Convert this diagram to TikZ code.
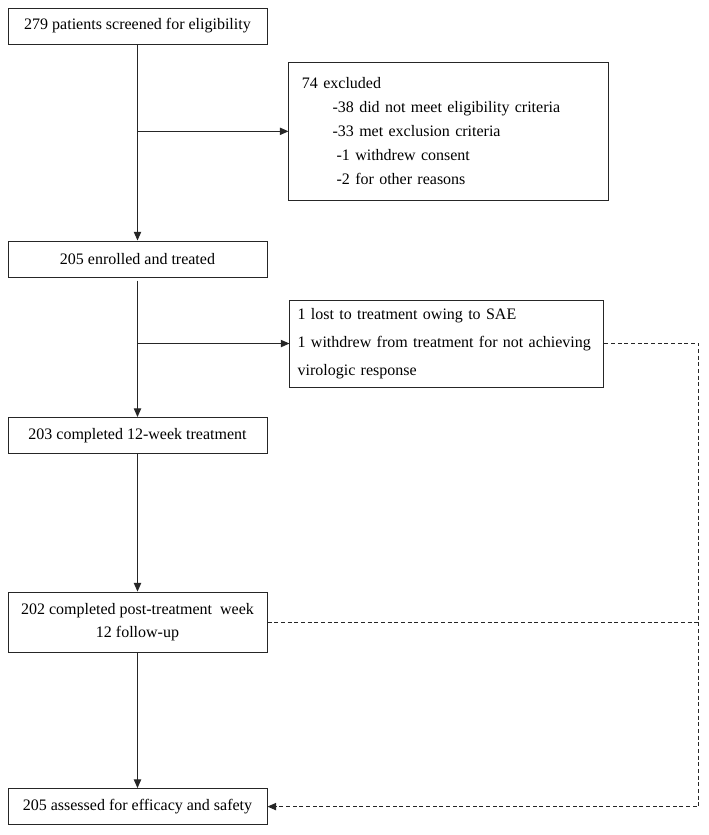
\documentclass[tikz,border=0pt]{standalone}
\usepackage{fontspec}
\setmainfont{Liberation Serif}
\usepackage{tikz}
\usetikzlibrary{positioning,arrows.meta}
\tikzstyle{box} = [draw=black!85,line width=0.75pt,minimum width=194.25pt,minimum height=27pt,inner sep=0pt,font=\fontsize{12}{14.4}\selectfont]
\tikzstyle{arrow} = [draw=black!85,line width=0.75pt,-{Triangle[length=6.5pt,width=5.5pt]}]
\tikzstyle{dline} = [draw=black!85,line width=0.75pt,dash pattern=on 3pt off 2pt]

\begin{document}
\begin{tikzpicture}[x=0.75pt,y=0.75pt,on grid]
    \useasboundingbox (0,0) rectangle (709,-835);
   	\node[box] at (137.5,-26) (b_1) {279 patients screened for eligibility};
   	\node[box][below=174.75pt of b_1](b_2){205 enrolled and treated};
   	\node[box][below=132.4pt of b_2](b_3){203 completed 12-week treatment};
   	\node[box,minimum height=45pt,align=center,font=\fontsize{12}{17.25}\selectfont][below=139.9pt of b_3](b_4){202 completed post-treatment \ week\\12 follow-up};
   	\node[box][below=138.4pt of b_4](b_5){205 assessed for efficacy and safety};
   	% side boxes
   	\node[box,minimum width=240pt,minimum height=104pt,text width=220.5pt,align=left,font=\fontsize{12}{18}\selectfont][below right=79pt and 233.6pt of b_1](x_1){74 excluded\\
   	\hspace*{23pt}-38 did not meet eligibility criteria\\
   	\hspace*{23pt}-33 met exclusion criteria\\
   	\hspace*{26pt}-1 withdrew consent\\
   	\hspace*{26pt}-2 for other reasons};
   	\node[box,minimum width=235.5pt,minimum height=65.25pt,text width=224pt,align=left,font=\fontsize{12}{21}\selectfont][below right=63.4pt and 232.1pt of b_2](x_2){1 lost to treatment owing to SAE\\
   	1 withdrew from treatment for not achieving\\
   	virologic response};
   	% branch points
   	\coordinate (c_1) at (b_1 |- x_1);
   	\coordinate (c_2) at (b_2 |- x_2);
   	\coordinate[right=189pt of x_2] (c_3);
   	\coordinate (c_4) at (c_3 |- b_5);
   	\coordinate (c_5) at (c_3 |- b_4);
    \path[every edge/.style=arrow] 
    (b_1) edge (b_2)
    (c_1) edge (x_1)
    (b_2.south) ++(0,-3) edge (b_3)
    (c_2) edge (x_2)
    (b_3) edge (b_4)
    (b_4) edge (b_5);
    \draw[dline,arrow] (x_2) -- (c_3) -- (c_4) -- (b_5);
    \draw[dline] (b_4) -- (c_5);
\end{tikzpicture}
\end{document}
